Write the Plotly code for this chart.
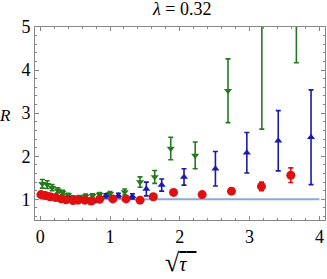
import plotly.graph_objects as go

# ---- data ----
green_x = [0.03, 0.10, 0.17, 0.25, 0.32, 0.40, 0.47, 0.56, 0.65, 0.75, 0.85, 1.00, 1.21, 1.43, 1.64, 1.87, 2.22, 2.69, 3.175, 3.67]
green_y = [1.36, 1.34, 1.27, 1.21, 1.16, 1.10, 1.04, 1.05, 1.07, 1.08, 1.11, 1.13, 1.17, 1.40, 1.52, 2.18, 2.02, 3.52, 5.30, 6.00]
green_e = [0.10, 0.09, 0.07, 0.06, 0.05, 0.04, 0.04, 0.04, 0.05, 0.05, 0.05, 0.05, 0.07, 0.12, 0.15, 0.26, 0.31, 0.74, 2.67, 1.83]

blue_x = [0.03, 0.10, 0.17, 0.25, 0.33, 0.42, 0.50, 0.59, 0.68, 0.77, 0.94, 1.12, 1.32, 1.52, 1.74, 2.06, 2.51, 2.96, 3.41, 3.88]
blue_y = [1.12, 1.10, 1.07, 1.04, 1.02, 1.01, 0.99, 0.98, 0.98, 0.96, 1.08, 1.09, 1.07, 1.24, 1.33, 1.52, 1.71, 2.08, 2.36, 2.44]
blue_e = [0.05, 0.04, 0.04, 0.03, 0.03, 0.03, 0.03, 0.03, 0.03, 0.04, 0.05, 0.05, 0.06, 0.16, 0.14, 0.19, 0.40, 0.47, 0.70, 1.10]

red_x = [0.01, 0.07, 0.14, 0.22, 0.30, 0.37, 0.47, 0.54, 0.64, 0.73, 0.85, 1.04, 1.23, 1.43, 1.62, 1.91, 2.32, 2.74, 3.17, 3.59]
red_y = [1.11, 1.09, 1.06, 1.04, 1.01, 0.99, 0.97, 0.98, 0.98, 0.96, 1.00, 1.01, 1.01, 0.98, 1.06, 1.16, 1.11, 1.19, 1.30, 1.56]
red_e = [0.03, 0.03, 0.02, 0.02, 0.02, 0.02, 0.02, 0.02, 0.02, 0.02, 0.02, 0.02, 0.02, 0.02, 0.03, 0.03, 0.04, 0.07, 0.10, 0.17]

baseline_x = [0, 4]
baseline_y = [1, 1]

x_ticks = [0, 1, 2, 3, 4]
y_ticks = [1, 2, 3, 4, 5]

X_RANGE = [-0.075, 4.08]
Y_RANGE = [0.52, 5.0]

GREEN = "#237a1c"
BLUE = "#1a1aaa"
RED = "#e01010"
FRAME = "#888888"
FONT = "Liberation Serif"

fig = go.Figure()
fig.add_trace(go.Scatter(x=baseline_x, y=baseline_y, mode="lines",
                         line=dict(color="#8ea8d4", width=2), hoverinfo="skip"))
# invisible trace that anchors the mirrored (top/right) tick axes
fig.add_trace(go.Scatter(x=baseline_x, y=baseline_y, mode="lines", xaxis="x2", yaxis="y2",
                         line=dict(width=0), opacity=0, hoverinfo="skip"))


def add_series(xs, ys, es, color, symbol, size):
    fig.add_trace(go.Scatter(
        x=xs, y=ys, mode="markers",
        marker=dict(color=color, symbol=symbol, size=size, line=dict(width=0)),
        error_y=dict(type="data", array=es, color=color, thickness=1.6, width=2.5),
    ))


add_series(green_x, green_y, green_e, GREEN, "triangle-down", 7)
add_series(blue_x, blue_y, blue_e, BLUE, "triangle-up", 7)
add_series(red_x, red_y, red_e, RED, "circle", 9)

minor = dict(dtick=0.2, ticks="inside", ticklen=2, tickcolor=FRAME)
axis_common = dict(
    showgrid=False, zeroline=False, showline=True, linecolor=FRAME, linewidth=1,
    mirror=True, ticks="inside", ticklen=4, tickwidth=1, tickcolor=FRAME,
    tickfont=dict(family=FONT, size=18, color="black"), minor=minor,
)
mirror_common = dict(
    showgrid=False, zeroline=False, showline=False, ticks="inside", ticklen=4,
    tickwidth=1, tickcolor=FRAME, showticklabels=False, minor=minor,
)

fig.update_layout(
    width=327, height=279,
    margin=dict(l=35, r=2, t=27, b=59),
    paper_bgcolor="white", plot_bgcolor="white",
    showlegend=False,
    xaxis=dict(range=X_RANGE, tickvals=x_ticks, **axis_common),
    yaxis=dict(range=Y_RANGE, tickvals=y_ticks, **axis_common),
    xaxis2=dict(range=X_RANGE, tickvals=x_ticks, overlaying="x", side="top", anchor="y2", **mirror_common),
    yaxis2=dict(range=Y_RANGE, tickvals=y_ticks, overlaying="y", side="right", anchor="x2", **mirror_common),
    annotations=[
        dict(text="<i>λ</i> = 0.32", xref="paper", yref="paper", x=0.505, y=1.0,
             yshift=18, showarrow=False, font=dict(family=FONT, size=18, color="black"),
             xanchor="center", yanchor="middle"),
        dict(text="<i>R</i>", xref="paper", yref="paper", x=0, y=0.5,
             xshift=-30, yshift=8, showarrow=False, font=dict(family=FONT, size=17, color="black"),
             xanchor="center", yanchor="middle"),
        dict(text="<span style='font-size:26px'>√</span><span style='text-decoration:overline'><i>τ</i>  </span>",
             xref="paper", yref="paper",
             x=0.5, y=0, yshift=-42, showarrow=False,
             font=dict(family=FONT, size=20, color="black"),
             xanchor="center", yanchor="middle"),
    ],
)

fig.write_html("out.html", config={"displayModeBar": False},
               post_script="document.body.style.margin='0';document.body.style.overflow='hidden';")
